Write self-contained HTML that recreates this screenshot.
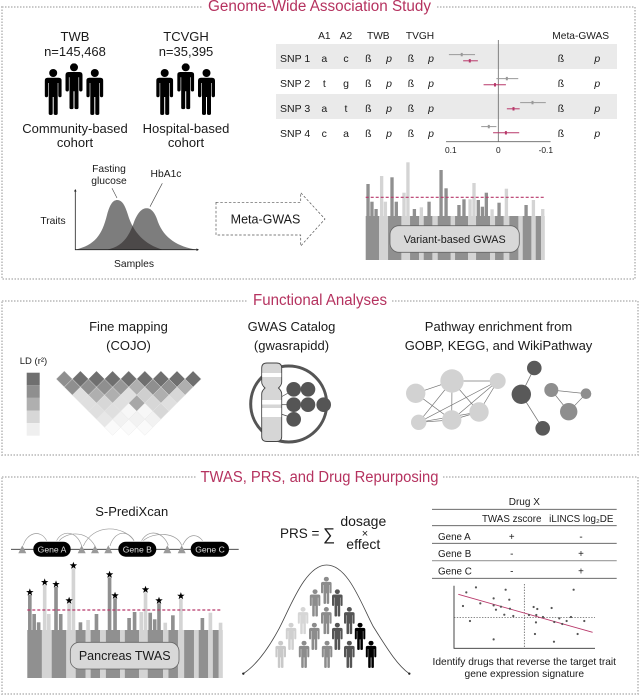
<!DOCTYPE html>
<html lang="en">
<head>
<meta charset="utf-8">
<title>Study overview figure</title>
<style>
html,body{margin:0;padding:0;background:#fff;}
svg{display:block;}
text{font-family:"Liberation Sans",sans-serif;fill:#1a1a1a;}
.m{text-anchor:middle;}
.title{font-size:15.5px;fill:#b5325f;text-anchor:middle;}
.border{fill:none;stroke:#c9c9c9;stroke-width:2;stroke-dasharray:1.5 1.5;}
</style>
</head>
<body>
<svg id="fig" xmlns="http://www.w3.org/2000/svg" width="640" height="696" viewBox="0 0 640 696">
<defs>
<symbol id="person" viewBox="0 0 17 46" preserveAspectRatio="none">
<circle cx="8.5" cy="4" r="4"/>
<path d="M3 8.7H14Q17 8.7 17 11.7V26.5Q17 28.2 15.2 28.2Q13.6 28.2 13.6 26.5V14H13V44.5Q13 46 11 46Q9 46 9 44.5V28H8V44.5Q8 46 6 46Q4 46 4 44.5V14H3.4V26.5Q3.4 28.2 1.8 28.2Q0 28.2 0 26.5V11.7Q0 8.7 3 8.7Z"/>
</symbol>
<clipPath id="curve-a-clip"><path d="M75.3 249.7C95 245 102 235 107 215C110 204 113 200 117.3 200C122 200 125 205 128 215C133 232 145 245 163 249.7Z"/></clipPath>
</defs>

<!-- Section frames -->
<rect class="border" x="2" y="7" width="633" height="272"/>
<rect class="border" x="2" y="301" width="636" height="154"/>
<rect class="border" x="2" y="477" width="636" height="217"/>
<rect x="203" y="0" width="234" height="14" fill="#fff"/>
<rect x="248" y="294" width="144" height="14" fill="#fff"/>
<rect x="196" y="470" width="247" height="14" fill="#fff"/>
<text class="title" x="319.5" y="11" textLength="223" lengthAdjust="spacingAndGlyphs">Genome-Wide Association Study</text>
<text class="title" x="320" y="305" textLength="134" lengthAdjust="spacingAndGlyphs">Functional Analyses</text>
<text class="title" x="319.5" y="482" textLength="238" lengthAdjust="spacingAndGlyphs">TWAS, PRS, and Drug Repurposing</text>

<!-- Cohorts -->
<g font-size="13">
<text class="m" x="75" y="41" font-size="13">TWB</text>
<text class="m" x="75" y="56" font-size="13">n=145,468</text>
<text class="m" x="186" y="41" font-size="13">TCVGH</text>
<text class="m" x="186" y="56" font-size="13">n=35,395</text>
<text class="m" x="75" y="133" font-size="13">Community-based</text>
<text class="m" x="75" y="147" font-size="13">cohort</text>
<text class="m" x="186" y="133" font-size="13">Hospital-based</text>
<text class="m" x="186" y="147" font-size="13">cohort</text>
</g>
<g fill="#000">
<use href="#person" x="44.7" y="69" width="17" height="46"/>
<use href="#person" x="65.5" y="63.3" width="17" height="46"/>
<use href="#person" x="86.3" y="69" width="17" height="46"/>
<use href="#person" x="156.2" y="69" width="17" height="46"/>
<use href="#person" x="177.2" y="63.3" width="17" height="46"/>
<use href="#person" x="198" y="69" width="17" height="46"/>
</g>

<!-- Trait distributions -->
<g>
<path fill="#7d7d7d" d="M75.3 249.7C95 245 102 235 107 215C110 204 113 200 117.3 200C122 200 125 205 128 215C133 232 145 245 163 249.7Z"/>
<path fill="#7d7d7d" d="M106.7 249.7C120 247 128 240 134 222C138 212 142 208.3 146.7 208.3C151 208.3 155 212 158 222C164 238 178 247 197 249.7Z"/>
<path fill="#4c4949" clip-path="url(#curve-a-clip)" d="M106.7 249.7C120 247 128 240 134 222C138 212 142 208.3 146.7 208.3C151 208.3 155 212 158 222C164 238 178 247 197 249.7Z"/>
<path d="M75.3 190V249.7H198" fill="none" stroke="#222" stroke-width=".8"/>
<path d="M74 191.5L75.3 189L76.6 191.5Z" fill="#222"/>
<path d="M196.5 248.4L199 249.7L196.5 251Z" fill="#222"/>
<path d="M112 188.3L117 198" stroke="#444" stroke-width=".6"/>
<path d="M162.3 183.3L150 206.7" stroke="#444" stroke-width=".6"/>
<text class="m" x="109" y="172" font-size="10.3">Fasting</text>
<text class="m" x="109" y="184" font-size="10.3">glucose</text>
<text class="m" x="166" y="177" font-size="10.3">HbA1c</text>
<text class="m" x="53" y="224" font-size="10.3">Traits</text>
<text class="m" x="134" y="267" font-size="10.3">Samples</text>
</g>

<!-- Meta-GWAS arrow -->
<path d="M216 202.3H300.7V192.7L325 219L300.7 246V235H216Z" fill="none" stroke="#555" stroke-width=".7" stroke-dasharray="2.5 1.8"/>
<text class="m" x="265.5" y="223.5" font-size="12.5">Meta-GWAS</text>

<!-- SNP table + forest -->
<g>
<rect x="276" y="44" width="341" height="25" fill="#eaeaea"/>
<rect x="276" y="94" width="341" height="25" fill="#eaeaea"/>
<g font-size="10.2">
<text class="m" x="324.3" y="39">A1</text>
<text class="m" x="346" y="39">A2</text>
<text class="m" x="378.3" y="39">TWB</text>
<text class="m" x="420" y="39">TVGH</text>
<text class="m" x="580.7" y="39">Meta-GWAS</text>
</g>
</g>
<g id="snp-rows" font-size="10.5"></g>
<g id="forest"></g>

<!-- GWAS manhattan -->
<g id="gwas-manhattan"></g>
<rect x="390" y="225.7" width="129.3" height="26.6" rx="9" fill="#d8d8d8" stroke="#666" stroke-width=".8"/>
<text class="m" x="454.7" y="243" font-size="10.8">Variant-based GWAS</text>

<!-- Fine mapping -->
<text class="m" x="128.5" y="331" font-size="13">Fine mapping</text>
<text class="m" x="128.5" y="350" font-size="13">(COJO)</text>
<text class="m" x="33.5" y="364" font-size="9.5">LD (r²)</text>
<g id="ld-legend"></g>
<g id="ld-triangle"></g>

<!-- GWAS catalog -->
<text class="m" x="291.5" y="331" font-size="13">GWAS Catalog</text>
<text class="m" x="291.5" y="350" font-size="13">(gwasrapidd)</text>
<g>
<circle cx="288.7" cy="404" r="38" fill="none" stroke="#555" stroke-width="3"/>
<path d="M281 397L290 392" stroke="#444" stroke-width=".7"/>
<path d="M281 404.7H290" stroke="#444" stroke-width=".7"/>
<path d="M281 414L290 417" stroke="#444" stroke-width=".7"/>
<circle cx="293.7" cy="389.3" r="7.3" fill="#555"/>
<circle cx="308" cy="389.3" r="7.3" fill="#555"/>
<circle cx="293.7" cy="404.7" r="7.3" fill="#555"/>
<circle cx="308" cy="404.7" r="7.3" fill="#555"/>
<circle cx="323.7" cy="404.7" r="7.3" fill="#555"/>
<circle cx="293.7" cy="419.3" r="7.3" fill="#555"/>
<path d="M267 363H276.5Q281.7 363 281.7 368V382Q281.7 385 278.5 388Q281.7 391 281.7 394V436.5Q281.7 441.5 276.5 441.5H267Q261.7 441.5 261.7 436.5V394Q261.7 391 265 388Q261.7 385 261.7 382V368Q261.7 363 267 363Z" fill="#d6d6d6" stroke="#444" stroke-width=".9"/>
<rect x="262.2" y="373" width="19" height="4" fill="#fff"/>
<rect x="262.2" y="400" width="19" height="4.5" fill="#fff"/>
<rect x="262.2" y="408" width="19" height="9" fill="#fff"/>
</g>

<!-- Pathway -->
<text class="m" x="498.5" y="331" font-size="13">Pathway enrichment from</text>
<text class="m" x="498.5" y="350" font-size="13">GOBP, KEGG, and WikiPathway</text>
<g stroke="#777" stroke-width=".7">
<path d="M415.7 393.3L452 381M452 381L497.7 381M415.7 393.3L451.7 420M418.7 422.3L452 381M452 381L451.7 420M452 381L479 412M418.7 422.3L497.7 381M451.7 420L497.7 381M479 412L497.7 381M418.7 422.3L451.7 420M418.7 422.3L479 412M451.7 420L479 412" fill="none"/>
<path d="M534.3 368L521.3 394.3L542.7 428.3" fill="none" stroke-width=".8"/>
<path d="M551.3 390L586 393.7L568.7 411.7Z" fill="none"/>
<g stroke="none">
<circle cx="415.7" cy="393.3" r="9.7" fill="#d2d2d2"/>
<circle cx="452" cy="381" r="11.7" fill="#d2d2d2"/>
<circle cx="497.7" cy="381" r="8" fill="#d2d2d2"/>
<circle cx="418.7" cy="422.3" r="7.7" fill="#d2d2d2"/>
<circle cx="451.7" cy="420" r="9.7" fill="#d2d2d2"/>
<circle cx="479" cy="412" r="9.7" fill="#d2d2d2"/>
<circle cx="534.3" cy="368" r="7.3" fill="#595959"/>
<circle cx="521.3" cy="394.3" r="9.7" fill="#595959"/>
<circle cx="542.7" cy="428.3" r="7.3" fill="#595959"/>
<circle cx="551.3" cy="390" r="7" fill="#8e8e8e"/>
<circle cx="586" cy="393.7" r="5.3" fill="#8e8e8e"/>
<circle cx="568.7" cy="411.7" r="8.7" fill="#8e8e8e"/>
</g>
</g>

<!-- S-PrediXcan -->
<text class="m" x="131.7" y="516" font-size="13">S-PrediXcan</text>
<g>
<path d="M11 549.3H238.7" stroke="#333" stroke-width=".8"/>
<g transform="translate(0,470) scale(.3333)" fill="none" stroke="#9a9a9a" stroke-width="2">
<path d="M70 226C80 190 120 175 140 212"/>
<path d="M170 212C185 180 230 180 245 228"/>
<path d="M178 212C195 190 255 175 285 228"/>
<path d="M250 228C280 160 370 165 402 212"/>
<path d="M330 228C345 180 385 180 402 212"/>
<path d="M425 212C445 175 490 185 505 226"/>
<path d="M430 212C460 185 530 185 545 226"/>
<path d="M548 226C565 190 590 190 608 212"/>
</g>
<g fill="#9a9a9a">
<path d="M22.3 545.3L26.3 553.3H18.3Z"/>
<path d="M81.7 545.3L85.7 553.3H77.7Z"/>
<path d="M95 545.3L99 553.3H91Z"/>
<path d="M108.3 545.3L112.3 553.3H104.3Z"/>
<path d="M167.3 545.3L171.3 553.3H163.3Z"/>
<path d="M181.7 545.3L185.7 553.3H177.7Z"/>
</g>
<rect x="33.3" y="541.7" width="37.4" height="15" rx="7.5" fill="#000"/>
<rect x="118.3" y="541.7" width="38" height="15" rx="7.5" fill="#000"/>
<rect x="190.7" y="541.7" width="38.3" height="15" rx="7.5" fill="#000"/>
<text class="m" x="52" y="552.3" font-size="8.6" style="fill:#ddd">Gene A</text>
<text class="m" x="137.3" y="552.3" font-size="8.6" style="fill:#ddd">Gene B</text>
<text class="m" x="210" y="552.3" font-size="8.6" style="fill:#ddd">Gene C</text>
</g>

<!-- TWAS manhattan -->
<g id="twas-manhattan"></g>
<rect x="70.3" y="642.3" width="108.7" height="26.7" rx="9" fill="#d8d8d8" stroke="#666" stroke-width=".8"/>
<text class="m" x="124.7" y="660" font-size="12.5">Pancreas TWAS</text>

<!-- PRS -->
<g>
<text x="280" y="538" font-size="13.5">PRS =</text>
<text x="323" y="540" font-size="17">∑</text>
<text class="m" x="363.3" y="526" font-size="14">dosage</text>
<text class="m" x="365" y="537" font-size="11">×</text>
<text class="m" x="363.3" y="549" font-size="14">effect</text>
</g>
<g transform="translate(230,480) scale(.3333)">
<path d="M40 581C80 555 115 505 145 450C180 385 225 255 290 255C355 255 395 375 430 440C465 495 500 555 538 581" fill="none" stroke="#444" stroke-width="2.4"/>
<circle cx="40" cy="581" r="3.5" fill="#222"/>
<circle cx="538" cy="581" r="3.5" fill="#222"/>
</g>
<g>
<use href="#person" fill="#c9c9c9" x="275.3" y="640.7" width="10.7" height="27.3"/>
<use href="#person" fill="#d0d0d0" x="285.7" y="622.7" width="10.7" height="27.3"/>
<use href="#person" fill="#d6d6d6" x="297.7" y="607" width="10.7" height="27.3"/>
<use href="#person" fill="#8c8c8c" x="298.7" y="640.7" width="10.7" height="27.3"/>
<use href="#person" fill="#8c8c8c" x="309.7" y="589.3" width="10.7" height="27.3"/>
<use href="#person" fill="#8c8c8c" x="309" y="622.7" width="10.7" height="27.3"/>
<use href="#person" fill="#8c8c8c" x="321" y="576.7" width="10.7" height="27.3"/>
<use href="#person" fill="#8c8c8c" x="321" y="607" width="10.7" height="27.3"/>
<use href="#person" fill="#8c8c8c" x="321.7" y="640.7" width="10.7" height="27.3"/>
<use href="#person" fill="#555" x="332" y="589.3" width="10.7" height="27.3"/>
<use href="#person" fill="#555" x="332" y="622.7" width="10.7" height="27.3"/>
<use href="#person" fill="#555" x="344" y="607" width="10.7" height="27.3"/>
<use href="#person" fill="#555" x="344" y="640.7" width="10.7" height="27.3"/>
<use href="#person" fill="#000" x="354.7" y="622.7" width="10.7" height="27.3"/>
<use href="#person" fill="#000" x="365.7" y="640.7" width="10.7" height="27.3"/>
</g>

<!-- Drug table -->
<g font-size="9.8">
<text class="m" x="524.3" y="505" font-size="10">Drug X</text>
<path d="M432 509.3H616.7" stroke="#555" stroke-width=".8"/>
<path d="M432 525.7H616.7" stroke="#555" stroke-width=".8"/>
<path d="M432 543.3H616.7" stroke="#555" stroke-width=".8"/>
<path d="M432 560.7H616.7" stroke="#999" stroke-width="1.2"/>
<path d="M432 578.3H616.7" stroke="#555" stroke-width=".8"/>
<text class="m" x="511.7" y="522">TWAS zscore</text>
<text class="m" x="581.3" y="522">iLINCS log₂DE</text>
<text x="438" y="540">Gene A</text>
<text x="438" y="557">Gene B</text>
<text x="438" y="574.5">Gene C</text>
<text class="m" x="511.7" y="540">+</text>
<text class="m" x="581" y="540">-</text>
<text class="m" x="511.7" y="557">-</text>
<text class="m" x="581" y="557">+</text>
<text class="m" x="511.7" y="574.5">-</text>
<text class="m" x="581" y="574.5">+</text>
</g>

<!-- Scatter -->
<g id="scatter"></g>
<text class="m" x="524.3" y="665" font-size="10.2">Identify drugs that reverse the target trait</text>
<text class="m" x="524.3" y="677" font-size="10.2">gene expression signature</text>
</svg>

<script>
// ---- Chart data ----
const snpNames = ['SNP 1','SNP 2','SNP 3','SNP 4'];
const allele1 = ['a','t','a','c'];
const allele2 = ['c','g','t','a'];

const forestTicks = [0.1, 0, -0.1];
const forestTickLabels = ['0.1', '0', '-0.1'];
const twbBeta = [0.077, -0.018, -0.072, 0.02];
const twbLow = [0.104, 0.004, -0.046, 0.036];
const twbHigh = [0.049, -0.042, -0.1, 0.004];
const metaBeta = [0.06, 0.007, -0.032, -0.016];
const metaLow = [0.074, 0.031, -0.018, 0.011];
const metaHigh = [0.043, -0.016, -0.045, -0.044];

const chromosomeSizes = [40,27,40,26,27,14,26,16,39,13,39,24,42,15,26,17,27,13,26,13,16,11];
const locusPositions = [1.3,3.5,5.8,8.9,11,14.7,17.1,21.4,23.6,27.2,31.1,35.4,42.1,44.9,52.1,54.9,58.3,60.5,62.9,65.2,67.4,70.6,74.5,78.6,89.6,93.7,98.9];
const locusLightBand = [0,0,0,1,1,0,0,1,1,0,1,0,0,0,0,0,1,1,0,0,0,1,0,1,0,1,1];
const gwasSignal = [32,14.3,7,40,14.3,38.7,14.3,23.3,53.7,7,8.7,14.3,46,27.7,11,16.7,16.7,33,16,9.3,23.3,6.7,13.3,27.3,11,16,7];
const twasSignal = [35,16,7.7,45,16,43,16,26.7,61.7,7.7,10,16,52.7,31.7,12,18,18,37.7,17.3,10.7,26.7,7.3,14.7,31.3,12,17.3,7.3];
const twasStarred = [1,0,0,1,0,1,0,1,1,0,0,0,1,1,0,0,0,1,0,0,1,0,0,1,0,0,0];
const gwasThreshold = 18.7;
const twasThreshold = 20;

const ldLegendLevels = [0.9,0.7,0.5,0.25,0.1];
const ldValues = [
  [0.7,0.9,0.9,0.9,0.9,0.9,0.9,0.9,0.9],
  [0.7,0.7,0.7,0.65,0.5,0.7,0.7,0.5],
  [0.2,0.5,0.5,0.2,0.3,0.5,0.25],
  [0.2,0.25,0.2,0.55,0.25,0.2],
  [0.2,0.2,0.05,0.05,0.25],
  [0.15,0.08,0.08,0.08],
  [0.03,0.03,0.03]
];

const scatterX = [-17.4,-14.5,-5.6,14.8,-9.2,-4.5,-18.4,-13.2,-9.2,-7,-8.5,-4.3,2.8,3.9,8.2,-6,-3.3,1.4,3.6,5.6,10.5,14,9,11.4,12.7,18,-16.3,3.5,3.2,16,-9.2,8.9];
const scatterY = [7.6,9.1,8.4,8.4,5.8,5.4,3.5,4.3,3.7,3.3,2.4,2.7,3.2,2.6,2.9,0.9,0.5,0.8,0.8,0.2,-0.2,0.2,-1.3,-1.9,-1,-1,-1,-1.4,-4.9,-4.9,-6.5,-7.2];
const fitX = [-19.8, 20.5];
const fitY = [7, -4.4];

// ---- Helpers ----
const SVGNS = 'http://www.w3.org/2000/svg';
function make(tag, attrs, parent, txt){
  const n = document.createElementNS(SVGNS, tag);
  for (const k in attrs) n.setAttribute(k, attrs[k]);
  if (txt !== undefined) n.textContent = txt;
  parent.appendChild(n);
  return n;
}
const PINK = '#b8386a';

// ---- SNP table rows ----
const rows = document.getElementById('snp-rows');
function addCell(x, y, txt, name, anchor, italic){
  const t = make('text', {x:x, y:y, 'text-anchor':anchor, 'font-style':italic ? 'italic' : 'normal'}, rows, txt);
  
  
}
snpNames.forEach(function(s, i){
  const y = 61.8 + i * 25;
  addCell(280, y, s, 'snp-name', 'start', false);
  addCell(324.3, y, allele1[i], 'allele-1', 'middle', false);
  addCell(346, y, allele2[i], 'allele-2', 'middle', false);
  addCell(368.3, y, 'ß', 'twb-beta', 'middle', false);
  addCell(389, y, 'p', 'twb-p', 'middle', true);
  addCell(411, y, 'ß', 'tvgh-beta', 'middle', false);
  addCell(431, y, 'p', 'tvgh-p', 'middle', true);
  addCell(561, y, 'ß', 'meta-beta', 'middle', false);
  addCell(597.3, y, 'p', 'meta-p', 'middle', true);
});

// ---- Forest plot ----
const forest = document.getElementById('forest');
function fx(v){ return 498.3 - v * 475; }
function fyTop(i){ return 54.6 + i * 24; }
const forestAxis = make('path', {d:'M'+fx(0.11)+' 141.7H'+fx(-0.11), stroke:'#666', 'stroke-width':0.8}, forest);


const forestZero = make('path', {d:'M'+fx(0)+' 40V141.7', stroke:'#666', 'stroke-width':0.8}, forest);


forestTicks.forEach(function(t, i){
  const lab = make('text', {x:fx(t), y:153, 'text-anchor':'middle', 'font-size':8.4}, forest, forestTickLabels[i]);
  
  
});
function drawInterval(lo, hi, beta, y, color, name){
  const l = make('path', {d:'M'+fx(lo)+' '+y+'H'+fx(hi), stroke:color, 'stroke-width':1}, forest);
  
  
  const m = make('rect', {x:fx(beta)-1, y:y-1.7, width:2, height:3.4, fill:color}, forest);
  
  
}
snpNames.forEach(function(s, i){
  drawInterval(twbLow[i], twbHigh[i], twbBeta[i], fyTop(i), '#999', 'twb');
  drawInterval(metaLow[i], metaHigh[i], metaBeta[i], fyTop(i) + 6.2, PINK, 'meta');
});

// ---- Manhattan plots ----
function drawManhattan(group, x0, width, yBase, yBottom, signal, threshold, starred, prefix){
  const total = chromosomeSizes.reduce(function(a, b){ return a + b; }, 0);
  const sx = function(p){ return x0 + p / 100 * width; };
  const sy = function(v){ return yBase - v; };
  let cum = 0;
  chromosomeSizes.forEach(function(sz, i){
    const r = make('rect', {x:x0 + cum / total * width, y:yBase, width:sz / total * width + 0.1, height:yBottom - yBase, fill:i % 2 ? '#d4d4d4' : '#909090'}, group);
    
    
    cum += sz;
  });
  const bw = width * 0.0186;
  signal.forEach(function(v, i){
    const b = make('rect', {x:sx(locusPositions[i]) - bw / 2, y:sy(v), width:bw, height:v + 0.5, fill:locusLightBand[i] ? '#d4d4d4' : '#909090'}, group);
    
    
  });
  const th = make('path', {d:'M'+x0+' '+sy(threshold)+'H'+(x0 + width - 1), stroke:PINK, 'stroke-width':1.2, 'stroke-dasharray':'3 2'}, group);
  
  
  if (starred) signal.forEach(function(v, i){
    if (!starred[i]) return;
    const cx = sx(locusPositions[i]), cy = sy(v) - 2.7;
    let pts = '';
    for (let k = 0; k < 10; k++){
      const r = k % 2 ? 1.6 : 3.9, a = -Math.PI / 2 + k * Math.PI / 5;
      pts += (cx + r * Math.cos(a)).toFixed(2) + ',' + (cy + r * Math.sin(a)).toFixed(2) + ' ';
    }
    const st = make('polygon', {points:pts, fill:'#000'}, group);
    
    
  });
}
drawManhattan(document.getElementById('gwas-manhattan'), 365.7, 179, 216, 260, gwasSignal, gwasThreshold, null, 'gwas');
drawManhattan(document.getElementById('twas-manhattan'), 27.3, 195.4, 630, 678, twasSignal, twasThreshold, twasStarred, 'twas');

// ---- LD heatmap ----
function ldColor(v){
  const g = Math.round(255 - v * 160);
  return 'rgb(' + g + ',' + g + ',' + g + ')';
}
const legendGroup = document.getElementById('ld-legend');
ldLegendLevels.forEach(function(v, i){
  const c = make('rect', {x:26.7, y:372.7 + i * 12.6, width:13, height:12.6, fill:ldColor(v)}, legendGroup);
  
  
});
const ldGroup = document.getElementById('ld-triangle');
const LDS = 8.05;
ldValues.forEach(function(row, r){
  row.forEach(function(v, c){
    const cx = 64.3 + r * LDS + c * 2 * LDS, cy = 379 + r * LDS, h = LDS;
    const d = make('polygon', {points:(cx-h)+','+cy+' '+cx+','+(cy-h)+' '+(cx+h)+','+cy+' '+cx+','+(cy+h), fill:ldColor(v), stroke:'#e6e6e6', 'stroke-width':0.4}, ldGroup);
    
    
  });
});

// ---- Scatter ----
const sc = document.getElementById('scatter');
function scx(v){ return 524.3 + v * 3.333; }
function scy(v){ return 617.7 - v * 3.333; }
const scAxes = make('path', {d:'M454 585.7V648.3H595', fill:'none', stroke:'#333', 'stroke-width':0.9}, sc);


const scV = make('path', {d:'M'+scx(0)+' 584V648', stroke:'#444', 'stroke-width':0.7, 'stroke-dasharray':'1.4 1.4'}, sc);


const scH = make('path', {d:'M454 '+scy(0)+'H595', stroke:'#444', 'stroke-width':0.7, 'stroke-dasharray':'1.4 1.4'}, sc);


const scFit = make('path', {d:'M'+scx(fitX[0])+' '+scy(fitY[0])+'L'+scx(fitX[1])+' '+scy(fitY[1]), stroke:PINK, 'stroke-width':0.9}, sc);


scatterX.forEach(function(v, i){
  const p = make('circle', {cx:scx(v), cy:scy(scatterY[i]), r:1.1, fill:'#555'}, sc);
  
  
});
</script>
</body>
</html>
